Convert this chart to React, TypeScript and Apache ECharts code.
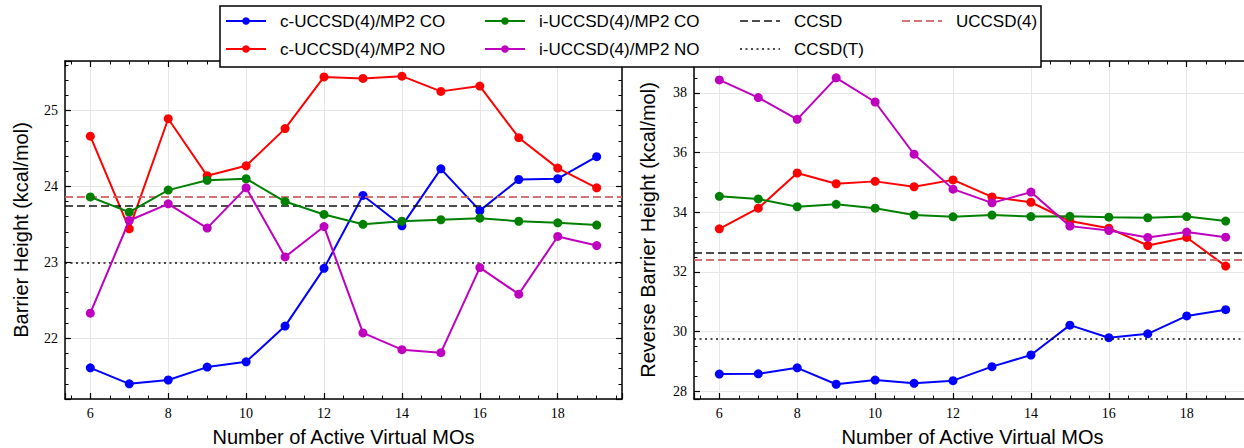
import React, { useEffect, useRef } from "react";
import * as echarts from "echarts";

// ---------- data ----------
const activeVirtualMOs = [6, 7, 8, 9, 10, 11, 12, 13, 14, 15, 16, 17, 18, 19];

const seriesNames = [
  "c-UCCSD(4)/MP2 CO",
  "c-UCCSD(4)/MP2 NO",
  "i-UCCSD(4)/MP2 CO",
  "i-UCCSD(4)/MP2 NO",
];
const refNames = ["CCSD", "CCSD(T)", "UCCSD(4)"];

// Forward barrier heights (kcal/mol)
const fwdCUccsdCO = [21.61, 21.4, 21.45, 21.62, 21.69, 22.16, 22.92, 23.88, 23.48, 24.23, 23.68, 24.09, 24.1, 24.39];
const fwdCUccsdNO = [24.66, 23.44, 24.89, 24.14, 24.27, 24.76, 25.44, 25.42, 25.45, 25.25, 25.32, 24.64, 24.24, 23.98];
const fwdIUccsdCO = [23.86, 23.66, 23.95, 24.08, 24.1, 23.8, 23.63, 23.5, 23.54, 23.56, 23.58, 23.54, 23.52, 23.49];
const fwdIUccsdNO = [22.33, 23.55, 23.77, 23.45, 23.98, 23.07, 23.47, 22.07, 21.85, 21.81, 22.93, 22.58, 23.34, 23.22];
const fwdRefs = [23.74, 22.99, 23.86]; // CCSD, CCSD(T), UCCSD(4)

// Reverse barrier heights (kcal/mol)
const revCUccsdCO = [28.57, 28.58, 28.78, 28.23, 28.37, 28.26, 28.35, 28.82, 29.21, 30.21, 29.79, 29.92, 30.52, 30.73];
const revCUccsdNO = [33.44, 34.13, 35.31, 34.95, 35.03, 34.85, 35.08, 34.51, 34.33, 33.7, 33.46, 32.88, 33.15, 32.19];
const revIUccsdCO = [34.53, 34.44, 34.18, 34.26, 34.13, 33.9, 33.84, 33.9, 33.85, 33.86, 33.83, 33.81, 33.85, 33.7];
const revIUccsdNO = [38.43, 37.84, 37.11, 38.5, 37.69, 35.94, 34.77, 34.31, 34.67, 33.53, 33.38, 33.15, 33.33, 33.16];
const revRefs = [32.64, 29.76, 32.39]; // CCSD, CCSD(T), UCCSD(4)

// ---------- styles ----------
const SERIES_COLORS = ["#0000ff", "#ff0000", "#008000", "#bf00bf"];
const REF_COLORS = ["rgba(0,0,0,0.7)", "rgba(0,0,0,0.7)", "rgba(205,92,92,0.85)"];
const REF_DASH: number[][] = [[8, 4], [2, 3.5], [8, 4]];
const SANS = "'Liberation Sans', Arial, sans-serif";
const SERIF = "'Liberation Serif', 'DejaVu Serif', serif";

const X_MIN = 5.35;
const X_MAX = 19.65;

const panels = [
  {
    left: 65,
    yMin: 21.2,
    yMax: 25.65,
    yMajor: 1,
    yMinor: 0.2,
    yName: "Barrier Height (kcal/mol)",
    yNameGap: 34,
    data: [fwdCUccsdCO, fwdCUccsdNO, fwdIUccsdCO, fwdIUccsdNO],
    refs: fwdRefs,
  },
  {
    left: 694,
    yMin: 27.735,
    yMax: 39.065,
    yMajor: 2,
    yMinor: 0.5,
    yName: "Reverse Barrier Height (kcal/mol)",
    yNameGap: 36,
    data: [revCUccsdCO, revCUccsdNO, revIUccsdCO, revIUccsdNO],
    refs: revRefs,
  },
];

const intFmt = (v: number) => {
  const r = Math.round(v);
  return Math.abs(v - r) < 1e-6 ? String(r) : "";
};

function axisSet(dim: "x" | "y", g: number, min: number, max: number, major: number, minor: number, name: string, nameGap: number) {
  const sides = dim === "x" ? ["bottom", "top"] : ["left", "right"];
  const base = { type: "value", gridIndex: g, min, max, splitNumber: 5 };
  const lineOn = { show: true, onZero: false, lineStyle: { color: "#000", width: 1.5 } };
  const majorTick = { show: true, inside: true, length: 6, lineStyle: { color: "#000", width: 1.2 } };
  const minorTickS = { show: true, inside: true, length: 3.5, lineStyle: { color: "#000", width: 1 } };
  return [
    {
      ...base,
      position: sides[0],
      minInterval: major,
      maxInterval: major,
      name,
      nameLocation: "middle",
      nameGap,
      nameTextStyle: { fontFamily: SANS, fontSize: 20, color: "#000" },
      axisLine: lineOn,
      axisTick: majorTick,
      axisLabel: { show: true, margin: dim === "x" ? 7 : 7, formatter: intFmt, fontFamily: SERIF, fontSize: 14, color: "#000" },
      splitLine: { show: true, lineStyle: { color: "#e6e6e6", width: 1 } },
    },
    {
      ...base,
      position: sides[0],
      minInterval: minor,
      maxInterval: minor,
      axisLine: { show: false, onZero: false },
      axisTick: minorTickS,
      axisLabel: { show: false },
      splitLine: { show: false },
    },
    {
      ...base,
      position: sides[1],
      minInterval: major,
      maxInterval: major,
      axisLine: lineOn,
      axisTick: majorTick,
      axisLabel: { show: false },
      splitLine: { show: false },
    },
    {
      ...base,
      position: sides[1],
      minInterval: minor,
      maxInterval: minor,
      axisLine: { show: false, onZero: false },
      axisTick: minorTickS,
      axisLabel: { show: false },
      splitLine: { show: false },
    },
  ];
}

function buildOption() {
  const grid: any[] = [];
  const xAxis: any[] = [];
  const yAxis: any[] = [];
  const series: any[] = [];

  panels.forEach((p, g) => {
    grid.push({ left: p.left, top: 61, width: 557, height: 338, containLabel: false, outerBoundsMode: "none" });
    xAxis.push(...axisSet("x", g, X_MIN, X_MAX, 2, 0.5, "Number of Active Virtual MOs", 28));
    yAxis.push(...axisSet("y", g, p.yMin, p.yMax, p.yMajor, p.yMinor, p.yName, p.yNameGap));

    p.refs.forEach((v, r) => {
      series.push({
        type: "line",
        name: refNames[r],
        xAxisIndex: g * 4,
        yAxisIndex: g * 4,
        data: [],
        silent: true,
        z: 2,
        symbol: "none",
        lineStyle: { color: REF_COLORS[r], width: 2, type: REF_DASH[r] },
        markLine: {
          silent: true,
          symbol: ["none", "none"],
          label: { show: false },
          emphasis: { disabled: true },
          lineStyle: { color: REF_COLORS[r], width: 2, type: REF_DASH[r] },
          data: [{ yAxis: v }],
        },
      });
    });

    p.data.forEach((vals, s) => {
      series.push({
        type: "line",
        name: seriesNames[s],
        xAxisIndex: g * 4,
        yAxisIndex: g * 4,
        data: activeVirtualMOs.map((x, i) => [x, vals[i]]),
        symbol: "circle",
        symbolSize: 9,
        showSymbol: true,
        silent: true,
        z: 3 + s,
        lineStyle: { color: SERIES_COLORS[s], width: 2 },
        itemStyle: { color: SERIES_COLORS[s] },
      });
    });
  });

  // Legend (4 columns x 2 rows, column-major like matplotlib)
  const legendItems = [
    { label: seriesNames[0], color: SERIES_COLORS[0], dash: null as number[] | null, marker: true },
    { label: seriesNames[1], color: SERIES_COLORS[1], dash: null, marker: true },
    { label: seriesNames[2], color: SERIES_COLORS[2], dash: null, marker: true },
    { label: seriesNames[3], color: SERIES_COLORS[3], dash: null, marker: true },
    { label: refNames[0], color: REF_COLORS[0], dash: REF_DASH[0], marker: false },
    { label: refNames[1], color: REF_COLORS[1], dash: REF_DASH[1], marker: false },
    { label: refNames[2], color: REF_COLORS[2], dash: REF_DASH[2], marker: false },
  ];
  const colX = [226, 485, 740, 902];
  const rowY = [21, 49];
  const graphic: any[] = [
    {
      type: "rect",
      z: 100,
      shape: { x: 220, y: 6, width: 821, height: 61 },
      style: { fill: "#fff", stroke: "#000", lineWidth: 1.5 },
    },
  ];
  legendItems.forEach((it, i) => {
    const c = Math.floor(i / 2);
    const r = i % 2;
    const x = colX[c];
    const y = rowY[r];
    graphic.push({
      type: "line",
      z: 101,
      shape: { x1: x, y1: y, x2: x + 40, y2: y },
      style: { stroke: it.color, lineWidth: 2, lineDash: it.dash || undefined },
    });
    if (it.marker) {
      graphic.push({
        type: "circle",
        z: 102,
        shape: { cx: x + 20, cy: y, r: 3.8 },
        style: { fill: it.color },
      });
    }
    graphic.push({
      type: "text",
      z: 102,
      x: x + 54,
      y: y,
      style: {
        text: it.label,
        fontFamily: SANS,
        fontSize: 17,
        fill: "#000",
        textAlign: "left",
        textVerticalAlign: "middle",
        verticalAlign: "middle",
      },
    });
  });

  return {
    animation: false,
    backgroundColor: "#fff",
    grid,
    xAxis,
    yAxis,
    series,
    graphic,
  };
}

export default function App() {
  const ref = useRef<HTMLDivElement>(null);
  useEffect(() => {
    if (!ref.current) return;
    const chart = echarts.init(ref.current, undefined, { renderer: "svg" });
    chart.setOption(buildOption() as any);
    return () => chart.dispose();
  }, []);
  return (
    <div
      ref={ref}
      style={{ position: "absolute", left: 0, top: 0, width: 1244, height: 448, background: "#fff" }}
    />
  );
}
